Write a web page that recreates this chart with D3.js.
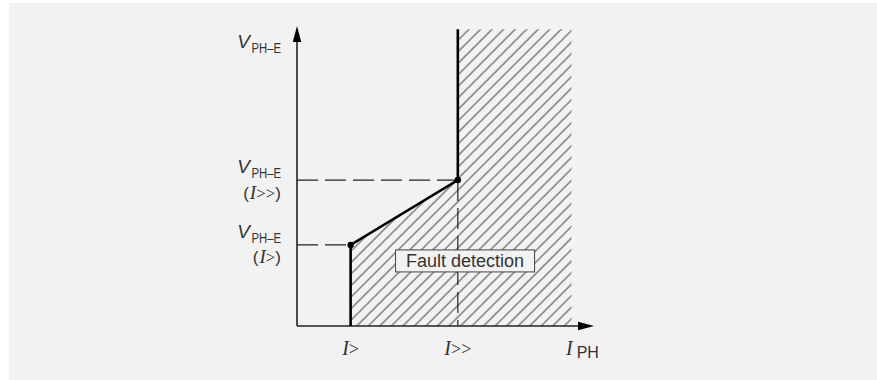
<!DOCTYPE html>
<html><head><meta charset="utf-8">
<script src="https://cdn.jsdelivr.net/npm/d3@7"></script>
<style>html,body{margin:0;padding:0;background:#fff;} svg{display:block}</style>
</head><body>
<svg id="chart" width="877" height="380"></svg>
<script>
// ---- data ----
const thresholdCurrents = [0.5, 1.5];      // I>, I>>
const thresholdVoltages = [1.0, 1.8];      // V_PH-E(I>), V_PH-E(I>>)
const currentTickLabels = [">", ">>"];     // preceded by italic I
const voltageTickLabels = [">", ">>"];     // (I>) , (I>>)
const regionMaxCurrent = 2.56;
const regionMaxVoltage = 3.66;
const axisMaxCurrent = 2.77;
const axisMaxVoltage = 3.7;
const regionLabel = "Fault detection";
const axisSubscript = "PH–E";
const xAxisSubscript = "PH";

// ---- drawing ----
const svg = d3.select("#chart");
const W = 877, H = 380;
const x = d3.scaleLinear().domain([0, axisMaxCurrent]).range([297, 594]);
const y = d3.scaleLinear().domain([0, axisMaxVoltage]).range([326, 26]);

const sans = "'Liberation Sans', Arial, sans-serif";
const serif = "'Liberation Serif', 'Times New Roman', serif";
const txt = "#333";

svg.append("rect").attr("x", 9).attr("y", 3).attr("width", W - 9).attr("height", H - 3).attr("fill", "#f2f2f2");

// hatch pattern
const defs = svg.append("defs");
const pat = defs.append("pattern").attr("id", "hatch")
  .attr("patternUnits", "userSpaceOnUse")
  .attr("width", 8.15).attr("height", 8.15)
  .attr("patternTransform", "rotate(45)");
pat.append("line").attr("x1", 1.9).attr("y1", -1).attr("x2", 1.9).attr("y2", 10)
  .attr("stroke", "#444").attr("stroke-width", 1);

const regionPts = [
  [thresholdCurrents[0], 0],
  [thresholdCurrents[0], thresholdVoltages[0]],
  [thresholdCurrents[1], thresholdVoltages[1]],
  [thresholdCurrents[1], regionMaxVoltage],
  [regionMaxCurrent, regionMaxVoltage],
  [regionMaxCurrent, 0]
];
const line = d3.line().x(d => x(d[0])).y(d => y(d[1]));
svg.append("path").attr("d", line(regionPts) + "Z").attr("fill", "url(#hatch)").attr("stroke", "none");

// dashed guide lines
thresholdCurrents.forEach((c, i) => {
  svg.append("line")
    .attr("x1", x(0)).attr("x2", x(c))
    .attr("y1", y(thresholdVoltages[i])).attr("y2", y(thresholdVoltages[i]))
    .attr("stroke", "#222").attr("stroke-width", 1.2).attr("stroke-dasharray", "21,7");
});
svg.append("line")
  .attr("x1", x(thresholdCurrents[1])).attr("x2", x(thresholdCurrents[1]))
  .attr("y1", y(thresholdVoltages[1])).attr("y2", y(0))
  .attr("stroke", "#222").attr("stroke-width", 1.2).attr("stroke-dasharray", "21,7");

// axes
const axCol = "#222";
svg.append("line").attr("x1", x(0)).attr("x2", x(0)).attr("y1", y(0)).attr("y2", y(axisMaxVoltage) + 10)
  .attr("stroke", axCol).attr("stroke-width", 1.6);
svg.append("line").attr("x1", x(0)).attr("x2", x(axisMaxCurrent) - 10).attr("y1", y(0)).attr("y2", y(0))
  .attr("stroke", axCol).attr("stroke-width", 1.6);
// arrowheads
const tx = x(0), ty = y(axisMaxVoltage);
svg.append("path").attr("d", `M${tx},${ty} L${tx - 4.2},${ty + 16} L${tx + 4.2},${ty + 16} Z`).attr("fill", "#000");
const rx = x(axisMaxCurrent), ry = y(0);
svg.append("path").attr("d", `M${rx},${ry} L${rx - 16},${ry - 4.2} L${rx - 16},${ry + 4.2} Z`).attr("fill", "#000");

// boundary
const boundary = regionPts.slice(0, 4);
svg.append("path").attr("d", line(boundary)).attr("fill", "none").attr("stroke", "#000")
  .attr("stroke-width", 2.6).attr("stroke-linejoin", "miter");
thresholdCurrents.forEach((c, i) => {
  svg.append("circle").attr("cx", x(c)).attr("cy", y(thresholdVoltages[i])).attr("r", 3.2).attr("fill", "#000");
});

// region label
const lcx = (x(thresholdCurrents[0]) + x(regionMaxCurrent)) / 2 + 4;
const lcy = y(thresholdVoltages[0]) + 16;
svg.append("rect").attr("x", lcx - 69.5).attr("y", lcy - 11).attr("width", 139).attr("height", 22)
  .attr("fill", "#f2f2f2").attr("stroke", "#444").attr("stroke-width", 1);
svg.append("text").attr("x", lcx).attr("y", lcy + 6).attr("text-anchor", "middle")
  .attr("font-family", sans).attr("font-size", 18).attr("fill", txt).text(regionLabel);

// y labels
function vLabel(xr, yb) {
  svg.append("text").attr("x", xr - 31).attr("y", yb).attr("text-anchor", "end")
    .attr("font-family", sans).attr("font-size", 19).attr("font-style", "italic").attr("fill", txt).text("V");
  svg.append("text").attr("x", xr - 29.5).attr("y", yb + 5).attr("font-family", sans).attr("font-size", 15)
    .attr("textLength", 29.5).attr("lengthAdjust", "spacingAndGlyphs").attr("fill", txt).text(axisSubscript);
}
vLabel(281, y(axisMaxVoltage) + 22);
thresholdVoltages.forEach((v, i) => {
  vLabel(281, y(v) - 7);
  const t = svg.append("text").attr("x", 281).attr("y", y(v) + 18.5).attr("text-anchor", "end")
    .attr("font-family", sans).attr("font-size", 17).attr("fill", txt);
  t.append("tspan").text("(");
  t.append("tspan").attr("font-family", serif).attr("font-style", "italic").attr("font-size", 19).attr("dx", 1).text("I");
  t.append("tspan").attr("font-family", serif).attr("font-size", 17).text(voltageTickLabels[i]);
  t.append("tspan").text(")");
});

// x labels
thresholdCurrents.forEach((c, i) => {
  const t = svg.append("text").attr("x", x(c)).attr("y", 355).attr("text-anchor", "middle")
    .attr("fill", txt);
  t.append("tspan").attr("font-family", serif).attr("font-style", "italic").attr("font-size", 20).text("I");
  t.append("tspan").attr("font-family", serif).attr("font-size", 18).text(currentTickLabels[i]);
});
const xl = svg.append("text").attr("x", 566).attr("y", 355).attr("fill", txt);
xl.append("tspan").attr("font-family", serif).attr("font-style", "italic").attr("font-size", 20).text("I");
xl.append("tspan").attr("font-family", sans).attr("font-size", 16).attr("dx", 4).attr("dy", 3).text(xAxisSubscript);
</script>
</body></html>
